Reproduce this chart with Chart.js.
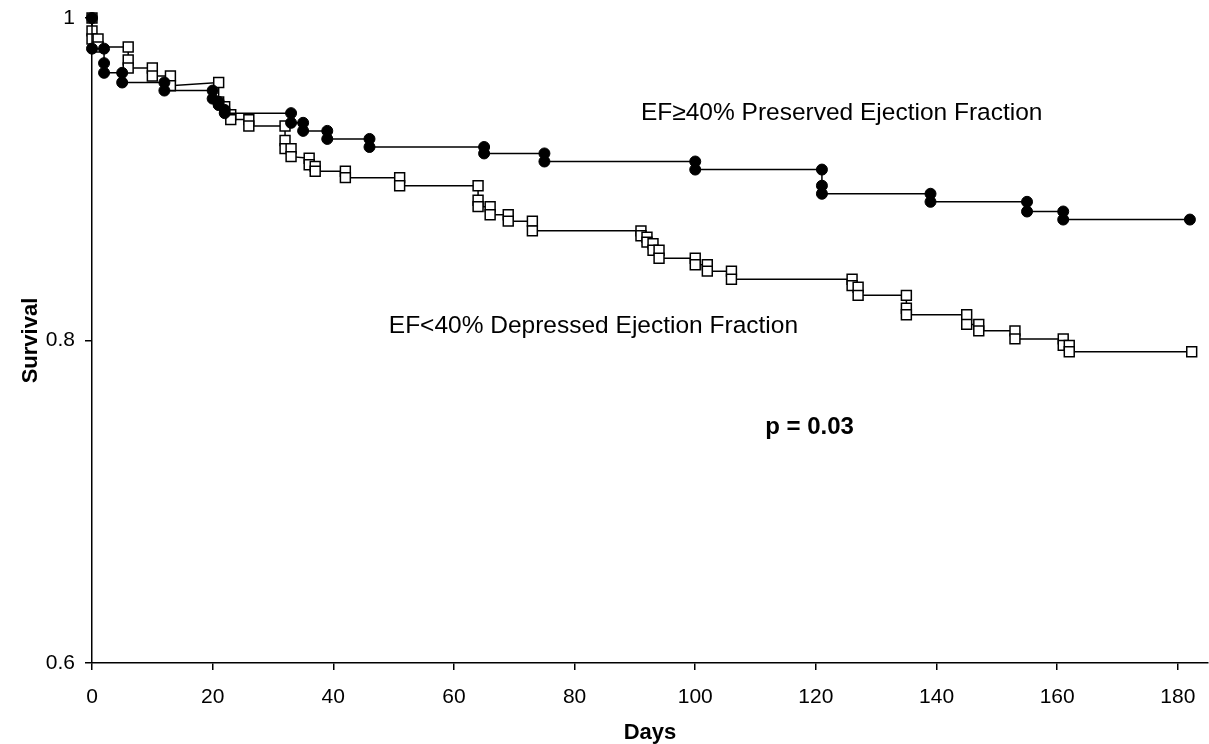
<!DOCTYPE html>
<html>
<head>
<meta charset="utf-8">
<script src="https://cdn.jsdelivr.net/npm/chart.js@4/dist/chart.umd.min.js"></script>
<style>
  html, body { margin: 0; padding: 0; background: #fff; }
  #wrap { width: 1209px; height: 744px; position: relative; }
</style>
</head>
<body>
<div id="wrap"><canvas id="chart"></canvas></div>
<script>
// EF >= 40% (preserved) - step vertices as plotted
const prDays = [0, 0, 2, 2, 2, 5, 5, 12, 12, 20, 20, 21, 21, 22, 22, 33, 33, 35, 35, 39, 39, 46, 46, 65, 65, 75, 75, 100, 100, 121, 121, 121, 139, 139, 155, 155, 161, 161, 182];
const prSurv = [1, 0.981, 0.981, 0.972, 0.966, 0.966, 0.960, 0.960, 0.955, 0.955, 0.950, 0.948, 0.946, 0.943, 0.941, 0.941, 0.935, 0.935, 0.930, 0.930, 0.925, 0.925, 0.920, 0.920, 0.916, 0.916, 0.911, 0.911, 0.906, 0.906, 0.896, 0.891, 0.891, 0.886, 0.886, 0.880, 0.880, 0.875, 0.875];

// EF < 40% (depressed)
const dpDays = [0, 0, 0, 1, 1, 6, 6, 6, 10, 10, 13, 13, 21, 21, 22, 23, 23, 26, 26, 32, 32, 32, 33, 33, 36, 36, 37, 37, 42, 42, 51, 51, 64, 64, 64, 66, 66, 69, 69, 73, 73, 91, 91, 92, 92, 93, 93, 94, 94, 100, 100, 102, 102, 106, 106, 126, 126, 127, 127, 135, 135, 135, 145, 145, 147, 147, 153, 153, 161, 161, 162, 162, 182.3];
const dpSurv = [1, 0.992, 0.987, 0.987, 0.982, 0.982, 0.974, 0.969, 0.969, 0.964, 0.964, 0.958, 0.960, 0.948, 0.945, 0.940, 0.937, 0.937, 0.933, 0.933, 0.924, 0.919, 0.919, 0.914, 0.913, 0.909, 0.908, 0.905, 0.905, 0.901, 0.901, 0.896, 0.896, 0.887, 0.883, 0.883, 0.878, 0.878, 0.874, 0.874, 0.868, 0.868, 0.865, 0.864, 0.861, 0.860, 0.856, 0.856, 0.851, 0.851, 0.847, 0.847, 0.843, 0.843, 0.838, 0.838, 0.834, 0.833, 0.828, 0.828, 0.820, 0.816, 0.816, 0.810, 0.810, 0.806, 0.806, 0.801, 0.801, 0.797, 0.797, 0.793, 0.793];

const xTicks = [0, 20, 40, 60, 80, 100, 120, 140, 160, 180];
const yTicks = [0.6, 0.8, 1];

// text notes placed in data units
const notes = [
  { text: 'EF\u226540% Preserved Ejection Fraction', day: 91, surv: 0.941, bold: false, size: 24.5 },
  { text: 'EF<40% Depressed Ejection Fraction', day: 49.2, surv: 0.809, bold: false, size: 24.5 },
  { text: 'p = 0.03', day: 111.6, surv: 0.746, bold: true, size: 24 }
];

const toPts = (xs, ys) => xs.map((d, i) => ({ x: d, y: ys[i] }));

const notesPlugin = {
  id: 'notes',
  afterDatasetsDraw(chart) {
    const ctx = chart.ctx;
    const xs = chart.scales.x, ys = chart.scales.y;
    ctx.save();
    ctx.fillStyle = '#000';
    ctx.textAlign = 'left';
    ctx.textBaseline = 'middle';
    notes.forEach(n => {
      ctx.font = (n.bold ? 'bold ' : '') + n.size + 'px "Liberation Sans", Arial, sans-serif';
      ctx.fillText(n.text, xs.getPixelForValue(n.day), ys.getPixelForValue(n.surv));
    });
    ctx.restore();
  }
};

const axisFont = { family: '"Liberation Sans", Arial, sans-serif', size: 21 };
const titleFont = { family: '"Liberation Sans", Arial, sans-serif', size: 22, weight: 'bold', lineHeight: 1 };

new Chart(document.getElementById('chart').getContext('2d'), {
  type: 'scatter',
  data: {
    datasets: [
      {
        label: 'EF>=40%',
        data: toPts(prDays, prSurv),
        showLine: true,
        borderColor: '#000',
        borderWidth: 1.5,
        pointStyle: 'circle',
        pointRadius: 5.5,
        pointBackgroundColor: '#000',
        pointBorderColor: '#000',
        pointBorderWidth: 1,
        clip: false
      },
      {
        label: 'EF<40%',
        data: toPts(dpDays, dpSurv),
        showLine: true,
        borderColor: '#000',
        borderWidth: 1.5,
        pointStyle: 'rect',
        pointRadius: 7,
        pointBackgroundColor: '#fff',
        pointBorderColor: '#000',
        pointBorderWidth: 1.5,
        clip: false
      }
    ]
  },
  options: {
    responsive: true,
    maintainAspectRatio: false,
    animation: false,
    layout: { autoPadding: false, padding: { top: 18, right: 1, left: 0, bottom: 0 } },
    plugins: { legend: { display: false }, tooltip: { enabled: false } },
    scales: {
      x: {
        type: 'linear',
        min: 0,
        max: 185,
        afterBuildTicks: s => { s.ticks = xTicks.map(v => ({ value: v })); },
        afterFit: s => { s.height = 81; s.paddingLeft = 0; s.paddingRight = 0; },
        grid: { drawOnChartArea: false, drawTicks: true, tickLength: 7, color: '#000', lineWidth: 1.5 },
        border: { display: true, color: '#000', width: 1.5 },
        ticks: { color: '#000', font: axisFont, padding: 15, maxRotation: 0 },
        title: { display: true, text: 'Days', color: '#000', font: titleFont, padding: { top: 0, bottom: 0 } }
      },
      y: {
        type: 'linear',
        min: 0.6,
        max: 1,
        afterBuildTicks: s => { s.ticks = yTicks.map(v => ({ value: v })); },
        afterFit: s => { s.width = 92; s.paddingTop = 0; s.paddingBottom = 0; },
        grid: { drawOnChartArea: false, drawTicks: true, tickLength: 7, color: '#000', lineWidth: 1.5 },
        border: { display: true, color: '#000', width: 1.5 },
        ticks: { color: '#000', font: axisFont, padding: 10, callback: v => String(Math.round(v * 10) / 10) },
        title: { display: true, text: 'Survival', color: '#000', font: titleFont, padding: { top: 20, bottom: 0 } }
      }
    }
  },
  plugins: [notesPlugin]
});
</script>
</body>
</html>
